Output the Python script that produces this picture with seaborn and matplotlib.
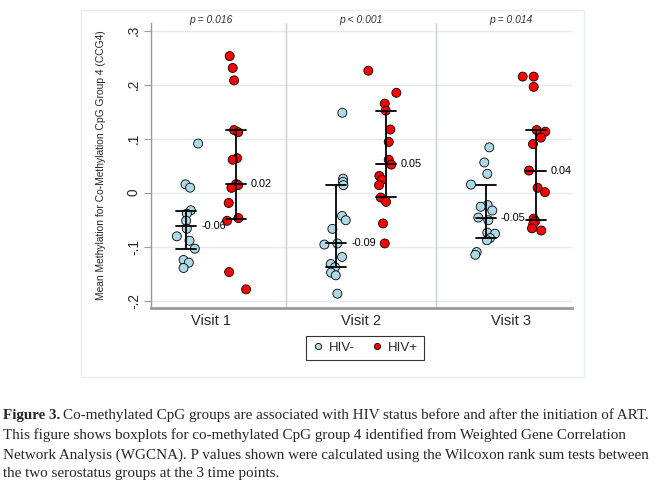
import numpy as np
import pandas as pd
import seaborn as sns
import matplotlib.pyplot as plt
from matplotlib.patches import Rectangle
from matplotlib.transforms import blended_transform_factory

visits = ["Visit 1", "Visit 2", "Visit 3"]
groups = ["HIV-", "HIV+"]
p_labels = ["p = 0.016", "p < 0.001", "p = 0.014"]

# mean methylation values
neg_v1 = [0.091, 0.0155, 0.0093, -0.0326, -0.0389, -0.052, -0.0667, -0.0808,
          -0.0889, -0.1037, -0.1246, -0.1296, -0.1394]
pos_v1 = [0.253, 0.231, 0.208, 0.116, 0.112, 0.064, 0.061, 0.016, 0.014,
          0.009, -0.019, -0.047, -0.052, -0.147, -0.179]
neg_v2 = [0.148, 0.026, 0.020, 0.014, -0.043, -0.051, -0.067, -0.096,
          -0.094, -0.119, -0.132, -0.138, -0.148, -0.153, -0.187]
pos_v2 = [0.226, 0.185, 0.165, 0.152, 0.117, 0.094, 0.061, 0.052, 0.031,
          0.024, 0.014, -0.009, -0.017, -0.057, -0.094]
neg_v3 = [0.084, 0.056, 0.035, 0.015, -0.023, -0.026, -0.033, -0.046,
          -0.051, -0.074, -0.076, -0.084, -0.088, -0.110, -0.115]
pos_v3 = [0.215, 0.215, 0.196, 0.116, 0.113, 0.102, 0.090, 0.041, 0.009,
          0.001, -0.048, -0.053, -0.058, -0.066, -0.070]

# horizontal jitter of each dot as drawn (pixels)
jit_neg_v1 = [12, -0.6, 4, 4.7, 0.7, 0, 0.7, -9.3, 3.4, 8.7, -2.6, 2.7, -2.6]
jit_pos_v1 = [-6.4, -3.4, -2, -2, 2, 1, -3.4, 0, 2, -4.7, -7.4, 2.3, -9, -7, 10]
jit_neg_v2 = [6.3, 7, 7, 7.3, 6, 9.7, -3.7, -11.7, 1.3, 6, -5.3, -1, -5, -0.3, 1.3]
jit_pos_v2 = [-17.7, 10.3, -1.3, -0.3, 4.3, 2.7, 2.7, 5.3, -6.7, -4, -7, -5.3, 0, -3, -1.3]
jit_neg_v3 = [3.3, -1.7, 1.3, -15, 1.7, -5.3, 6.3, -7.7, 2.3, 1.3, 9, 4, 1, -9.3, -10.7]
jit_pos_v3 = [-13.3, -2.3, -2.3, 0.7, 9.3, 5, -3, -7, 1.7, 9, -2.3, -0.7, -2.7, -4, 5.3]

# median and interquartile range per visit
med_neg = [-0.062, -0.094, -0.046]
q1_neg = [-0.104, -0.137, -0.0845]
q3_neg = [-0.033, 0.014, 0.015]
med_pos = [0.016, 0.0525, 0.041]
q1_pos = [-0.048, -0.008, -0.050]
q3_pos = [0.117, 0.152, 0.116]

vals = {("HIV-", 0): (neg_v1, jit_neg_v1), ("HIV+", 0): (pos_v1, jit_pos_v1),
        ("HIV-", 1): (neg_v2, jit_neg_v2), ("HIV+", 1): (pos_v2, jit_pos_v2),
        ("HIV-", 2): (neg_v3, jit_neg_v3), ("HIV+", 2): (pos_v3, jit_pos_v3)}
shift = {"HIV-": -1 / 6, "HIV+": 1 / 6}

rows = []
for (g, i), (v, j) in vals.items():
    for y, dx in zip(v, j):
        rows.append({"status": g, "visit": i, "value": y,
                     "x": i + shift[g] + dx / 150})
df = pd.DataFrame(rows)

sns.set_theme(style="white")
plt.rcParams["font.family"] = ["Liberation Sans", "DejaVu Sans"]

fig = plt.figure(figsize=(6.68, 4.88), dpi=100)
ax = fig.add_axes([0.2256, 0.3689, 0.6307, 0.584])

ax.set_xlim(-0.403, 2.407)
ax.set_ylim(-0.2135, 0.3143)
yt = [-0.2, -0.1, 0, 0.1, 0.2, 0.3]
ax.set_yticks(yt)
ax.set_yticklabels(["-.2", "-.1", "0", ".1", ".2", ".3"], rotation=90,
                   va="center", fontsize=9.8)
for t in yt:
    ax.axhline(t, color="#e3ebef", lw=1, zorder=0)
for d in [0.5, 1.5]:
    ax.axvline(d, color="#c9ced2", lw=1, zorder=0)

ax.set_xticks(range(3))
ax.set_xticklabels(visits, fontsize=10.5)
ax.tick_params(axis="x", length=0, pad=4)
ax.tick_params(axis="y", length=5, width=0.8, color="#9a9a9a", pad=2,
               left=True)

for s in ["top", "right"]:
    ax.spines[s].set_visible(False)
ax.spines["left"].set_color("#9a9a9a")
ax.spines["left"].set_linewidth(1)
ax.spines["bottom"].set_color("#9a9a9a")
ax.spines["bottom"].set_linewidth(2)

# median + IQR bars
cap = 0.067
for g, med, lo, hi in [("HIV-", med_neg, q1_neg, q3_neg),
                       ("HIV+", med_pos, q1_pos, q3_pos)]:
    for i in range(3):
        xc = i + shift[g]
        ax.plot([xc, xc], [lo[i], hi[i]], color="black", lw=1.3, zorder=4)
        for yv in (lo[i], med[i], hi[i]):
            ax.plot([xc - cap, xc + cap], [yv, yv], color="black", lw=1.3,
                    zorder=4)
        ax.text(xc + 0.1, med[i], f"{med[i]:.2f}", va="center", ha="left",
                fontsize=7.8, color="black", zorder=5)

sns.scatterplot(data=df, x="x", y="value", hue="status", hue_order=groups,
                palette={"HIV-": "#add8e6", "HIV+": "#ff0000"}, s=42,
                edgecolor="black", linewidth=0.6, ax=ax, zorder=3,
                legend=False)

ax.set_xlabel("")
ax.set_ylabel("Mean Methylation for Co-Methylation CpG Group 4 (CCG4)",
              fontsize=7.4)
ax.yaxis.set_label_coords(-0.107, 0.5)

trans = blended_transform_factory(ax.transData, fig.transFigure)
for i, p in enumerate(p_labels):
    ax.text(i, 1 - 20 / 488, p, transform=trans, ha="center", va="center",
            fontsize=7.4, style="italic", color="#333333")

handles = [plt.Line2D([], [], marker="o", ls="", markersize=4.5,
                      markerfacecolor=c, markeredgecolor="black",
                      markeredgewidth=0.6)
           for c in ["#add8e6", "#ff0000"]]
leg = fig.legend(handles, groups, loc="center", bbox_to_anchor=(0.5457, 0.287),
                 ncol=2, fontsize=9.5, frameon=True, fancybox=False,
                 handletextpad=0.3, columnspacing=1.2, borderpad=0.45,
                 handlelength=1.0)
leg.get_frame().set_edgecolor("black")
leg.get_frame().set_linewidth(0.8)

fig.patches.append(Rectangle((0.1208, 0.2281), 0.7539, 0.7514,
                             transform=fig.transFigure, fill=False,
                             edgecolor="#e6eeee", lw=1))

# caption
cap_font = dict(family="Liberation Serif", fontsize=10.9, va="center")
lines = ["Co-methylated CpG groups are associated with HIV status before and after the initiation of ART.",
         "This figure shows boxplots for co-methylated CpG group 4 identified from Weighted Gene Correlation",
         "Network Analysis (WGCNA). P values shown were calculated using the Wilcoxon rank sum tests between",
         "the two serostatus groups at the 3 time points."]
ys = [415, 435, 455, 474]
fig.canvas.draw()
r = fig.canvas.get_renderer()
b = fig.text(3 / 668, 1 - ys[0] / 488, "Figure 3.", fontweight="bold",
             **cap_font)
bb = b.get_window_extent(renderer=r)
fig.text((bb.x1 + 3) / 668, 1 - ys[0] / 488, lines[0], **cap_font)
for y, line in zip(ys[1:], lines[1:]):
    fig.text(3 / 668, 1 - y / 488, line, **cap_font)

fig.savefig("out.png", dpi=100)
